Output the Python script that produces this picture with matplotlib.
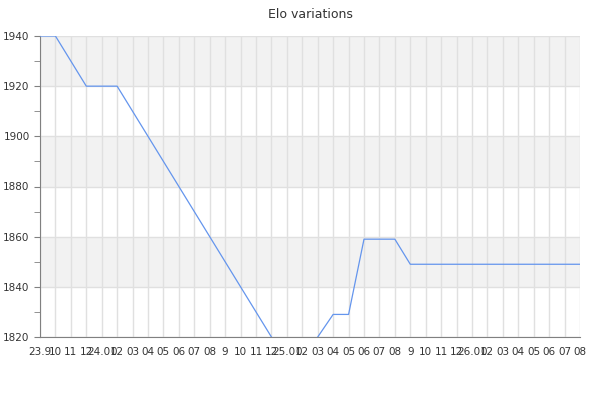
import numpy as np
import matplotlib.pyplot as plt

# month labels along the bottom
month_labels = ["23.9", "10", "11", "12",
                "24.01", "02", "03", "04", "05", "06", "07", "08", "9", "10", "11", "12",
                "25.01", "02", "03", "04", "05", "06", "07", "08", "9", "10", "11", "12",
                "26.01", "02", "03", "04", "05", "06", "07", "08"]

# elo at each month (values below 1820 are cut off by the axis)
elo = [1940, 1940, 1930, 1920, 1920, 1920, 1910, 1900, 1890, 1880,
       1870, 1860, 1850, 1840, 1830, 1820, 1810, 1810, 1820, 1829,
       1829, 1859, 1859, 1859, 1849, 1849, 1849, 1849, 1849, 1849,
       1849, 1849, 1849, 1849, 1849, 1849]

x = np.arange(len(month_labels))

fig = plt.figure(figsize=(6, 4), dpi=100)
ax = fig.add_axes([40/600, 1 - 337/400, 540/600, 301/400])

# alternating bands
for lo in range(1820, 1940, 20):
    if (lo - 1820) // 20 % 2 == 1:
        ax.axhspan(lo, lo + 20, color="#f2f2f2", zorder=0, lw=0)

ax.set_xlim(0, len(x) - 1)
ax.set_ylim(1820, 1940)
ax.set_xticks(x)
ax.set_xticklabels(month_labels)
ax.set_yticks(np.arange(1820, 1941, 20))
ax.set_yticks(np.arange(1830, 1940, 20), minor=True)

ax.grid(True, which="major", color="#e0e0e0", lw=1, zorder=1)
ax.set_axisbelow(True)

ax.plot(x, elo, color="#6495ed", lw=0.9, zorder=3)

for s in ["top", "right"]:
    ax.spines[s].set_visible(False)
for s in ["left", "bottom"]:
    ax.spines[s].set_color("#808080")
ax.tick_params(axis="y", which="both", colors="#808080", labelcolor="#333333",
               labelsize=7.5, length=4.5, pad=3)
ax.tick_params(axis="x", length=0, labelsize=7.5, labelcolor="#333333", pad=7)

ax.set_title("Elo variations", fontsize=9, color="#333333", pad=13)

fig.savefig("out.png")
